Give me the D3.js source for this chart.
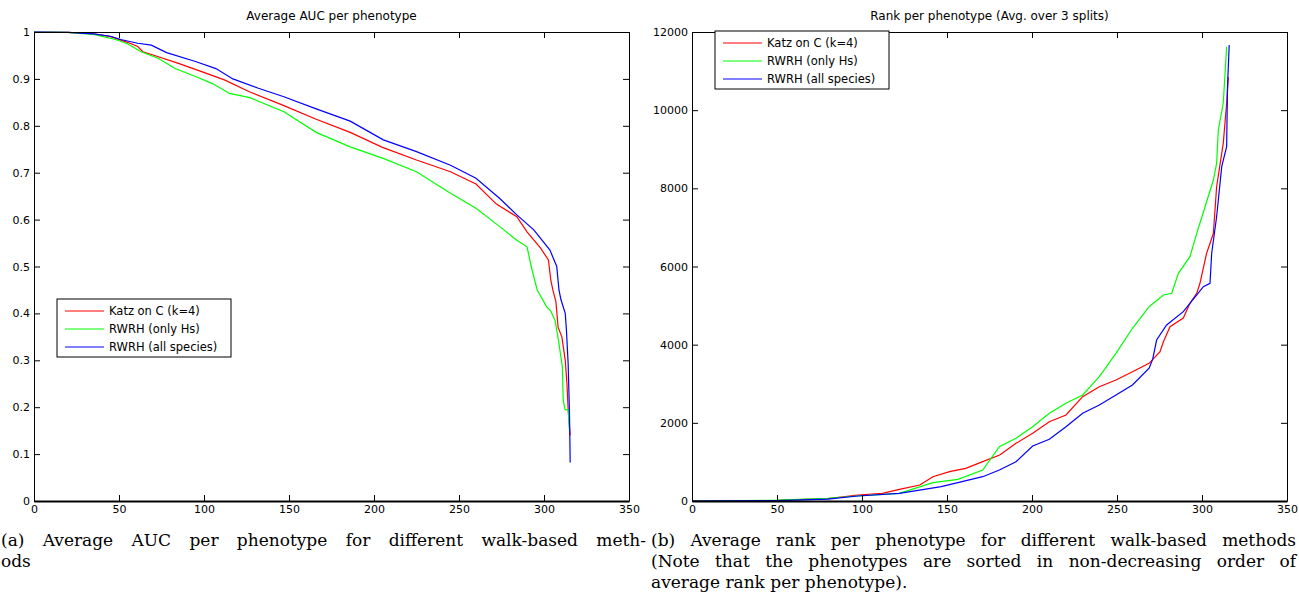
<!DOCTYPE html>
<html>
<head>
<meta charset="utf-8">
<script src="https://cdn.jsdelivr.net/npm/d3@7"></script>
<style>
  body { margin: 0; background: #fff; }
  svg text { font-family: "DejaVu Sans", sans-serif; }
  svg text.caption { font-family: "DejaVu Serif", serif; font-size: 17px; }
</style>
</head>
<body>
<svg id="figure"></svg>
<script>
// ---- data: [phenotype index, value] ----
const seriesNames = ["Katz on C (k=4)", "RWRH (only Hs)", "RWRH (all species)"];
const seriesColors = ["#ff0000", "#00ff00", "#0000ff"];

// (a) average AUC per phenotype
const aucKatz = [[0,1],[20,0.999],[35,0.996],[45,0.99],[55,0.978],[61,0.969],[64,0.958],[70,0.951],[85,0.933],[99,0.915],[112,0.898],[127,0.872],[147,0.843],[166,0.814],[186,0.786],[205,0.754],[225,0.727],[245,0.702],[260,0.676],[272,0.633],[284,0.606],[290,0.574],[298,0.539],[302.6,0.514],[304,0.471],[305.2,0.45],[307,0.425],[308.3,0.37],[310.5,0.35],[312.5,0.3],[313.5,0.25],[314.2,0.195],[315.4,0.14]];
const aucHs = [[0,1],[20,0.999],[35,0.995],[48,0.984],[55,0.975],[63,0.958],[73,0.944],[83,0.922],[95,0.905],[105,0.89],[115,0.869],[127,0.86],[147,0.83],[166,0.786],[186,0.755],[205,0.731],[225,0.702],[245,0.656],[260,0.624],[274,0.585],[284,0.556],[290,0.542],[293,0.492],[296,0.45],[301.6,0.414],[304,0.405],[306.5,0.385],[308.5,0.343],[310.8,0.286],[311.3,0.215],[312.4,0.195],[314.2,0.195],[315,0.15]];
const aucAll = [[0,1],[20,0.999],[35,0.996],[45,0.991],[51,0.984],[61,0.976],[69,0.972],[78,0.956],[95,0.937],[107,0.922],[117,0.9],[132,0.88],[147,0.862],[166,0.836],[186,0.81],[205.5,0.77],[225,0.745],[245,0.716],[260,0.688],[274,0.645],[284,0.61],[294,0.578],[303.5,0.535],[307.5,0.5],[308.8,0.45],[310,0.429],[312.5,0.4],[313.2,0.364],[314.2,0.293],[315,0.186],[315.4,0.082]];

// (b) average rank per phenotype
const rankKatz = [[0,0],[50,15],[80,60],[97.6,154],[112,197],[122,299],[134,409],[141.7,622],[151.5,750],[161,836],[171,1006],[181,1177],[190.6,1476],[200.4,1732],[210.2,2029],[220,2200],[229.8,2669],[239.6,2925],[249.4,3096],[259.1,3309],[268.9,3523],[275.3,3821],[277.3,4076],[281.2,4460],[289,4680],[292.9,5058],[296.9,5314],[298.8,5570],[302.7,6338],[306.7,6849],[308.6,8042],[312.5,9152],[314.5,10176],[315.5,10850]];
const rankHs = [[0,0],[50,20],[80,70],[97.6,128],[122,197],[141.7,469],[156.4,555],[171,793],[180.8,1390],[190.6,1604],[200.4,1901],[210.2,2244],[220,2500],[229.8,2712],[239.6,3181],[249.4,3779],[259.1,4419],[268.9,4972],[277.3,5271],[282.2,5314],[286.1,5826],[292.9,6251],[296.9,6849],[301.8,7530],[306.7,8213],[308.6,8640],[309.6,9493],[312.5,10176],[314.5,11624]];
const rankAll = [[0,0],[50,10],[80,50],[97.6,128],[122,197],[146.6,366],[171,622],[180.8,793],[190.6,1006],[200.4,1407],[210.2,1578],[220,1901],[229.8,2244],[239.6,2456],[249.4,2712],[259.1,2968],[268.9,3400],[271,3630],[273.3,4119],[279.2,4503],[289,4844],[292.9,5058],[300.8,5484],[304.7,5570],[305.7,6338],[308.6,7274],[311.6,8554],[314.5,9066],[315,10602],[316,11667]];

// ---- ticks ----
const xTicks = [0, 50, 100, 150, 200, 250, 300, 350];
const aucTicks = [0, 0.1, 0.2, 0.3, 0.4, 0.5, 0.6, 0.7, 0.8, 0.9, 1];
const aucTickLabels = ["0", "0.1", "0.2", "0.3", "0.4", "0.5", "0.6", "0.7", "0.8", "0.9", "1"];
const rankTicks = [0, 2000, 4000, 6000, 8000, 10000, 12000];

// ---- titles and captions ----
const titleA = "Average AUC per phenotype";
const titleB = "Rank per phenotype (Avg. over 3 splits)";
const captionA = ["(a) Average AUC per phenotype for different walk-based meth-", "ods"];
const captionB = ["(b) Average rank per phenotype for different walk-based methods",
                  "(Note that the phenotypes are sorted in non-decreasing order of",
                  "average rank per phenotype)."];

// ---- layout ----
const width = 1299;
const height = 607;
const marginTop = 32;
const plotBottom = 501;
const tickLen = 6;

const svg = d3.select("#figure")
    .attr("width", width)
    .attr("height", height)
    .attr("viewBox", [0, 0, width, height]);

function drawPanel(opts) {
    const x = d3.scaleLinear().domain([0, 350]).range([opts.left, opts.right]);
    const y = d3.scaleLinear().domain(opts.yDomain).range([plotBottom, marginTop]);

    const g = svg.append("g");

    // lines
    const line = d3.line().x(d => x(d[0])).y(d => y(d[1]));
    g.selectAll("path.series")
      .data(opts.series)
      .join("path")
        .attr("class", "series")
        .attr("fill", "none")
        .attr("stroke", (d, i) => seriesColors[i])
        .attr("stroke-width", 1.2)
        .attr("d", line);

    // axes, ticks pointing inward (MATLAB box)
    const axisStyle = a => a.call(s => s.selectAll("text")
        .attr("font-family", "DejaVu Sans").attr("font-size", 11).attr("fill", "#000"))
        .call(s => s.selectAll("line, path").attr("stroke", "#000"));

    g.append("g")
        .attr("transform", `translate(0,${plotBottom})`)
        .call(d3.axisBottom(x).tickValues(xTicks).tickSizeInner(-tickLen).tickSizeOuter(0).tickPadding(4))
        .call(axisStyle)
        .call(s => s.select(".domain").attr("stroke-width", 2));
    g.append("g")
        .attr("transform", `translate(0,${marginTop})`)
        .call(d3.axisTop(x).tickValues(xTicks).tickSizeInner(-tickLen).tickSizeOuter(0).tickFormat(""))
        .call(axisStyle);
    g.append("g")
        .attr("transform", `translate(${opts.left},0)`)
        .call(d3.axisLeft(y).tickValues(opts.yTicks).tickSizeInner(-tickLen).tickSizeOuter(0).tickPadding(4)
            .tickFormat(opts.yFormat))
        .call(axisStyle);
    g.append("g")
        .attr("transform", `translate(${opts.right},0)`)
        .call(d3.axisRight(y).tickValues(opts.yTicks).tickSizeInner(-tickLen).tickSizeOuter(0).tickFormat(""))
        .call(axisStyle);

    // title
    g.append("text")
        .attr("x", (opts.left + opts.right) / 2)
        .attr("y", 20)
        .attr("text-anchor", "middle")
        .attr("font-size", 12)
        .text(opts.title);

    // legend
    const lg = g.append("g").attr("transform", `translate(${opts.legendX},${opts.legendY})`);
    lg.append("rect")
        .attr("width", 174)
        .attr("height", 58)
        .attr("fill", "#fff")
        .attr("stroke", "#000");
    const items = lg.selectAll("g.item")
      .data(seriesNames)
      .join("g")
        .attr("class", "item")
        .attr("transform", (d, i) => `translate(0,${12 + i * 18})`);
    items.append("line")
        .attr("x1", 8).attr("x2", 47)
        .attr("stroke", (d, i) => seriesColors[i])
        .attr("stroke-width", 1.2);
    items.append("text")
        .attr("x", 52)
        .attr("dy", "0.36em")
        .attr("font-size", 11.5)
        .text(d => d);
}

drawPanel({
    left: 34, right: 629,
    yDomain: [0, 1], yTicks: aucTicks,
    yFormat: (d, i) => aucTickLabels[i],
    series: [aucKatz, aucHs, aucAll],
    title: titleA,
    legendX: 57, legendY: 299
});

drawPanel({
    left: 692, right: 1287,
    yDomain: [0, 12000], yTicks: rankTicks,
    yFormat: d => String(d),
    series: [rankKatz, rankHs, rankAll],
    title: titleB,
    legendX: 715, legendY: 31
});

// captions (justified like the LaTeX subcaptions)
function captionLine(str, x0, y0, lineWidth) {
    const t = svg.append("text").attr("class", "caption").attr("y", y0);
    const words = str.split(" ");
    if (!lineWidth) {
        t.attr("x", x0).text(str);
        return;
    }
    const spans = words.map(w => t.append("tspan").text(w));
    const widths = spans.map(s => s.node().getComputedTextLength());
    const gap = Math.max(4, (lineWidth - d3.sum(widths)) / (words.length - 1));
    let cx = x0;
    spans.forEach((s, i) => { s.attr("x", cx); cx += widths[i] + gap; });
}

captionLine(captionA[0], 1, 546, 645);
captionLine(captionA[1], 1, 567);
captionLine(captionB[0], 651, 546, 645);
captionLine(captionB[1], 651, 567, 645);
captionLine(captionB[2], 651, 588);
</script>
</body>
</html>
